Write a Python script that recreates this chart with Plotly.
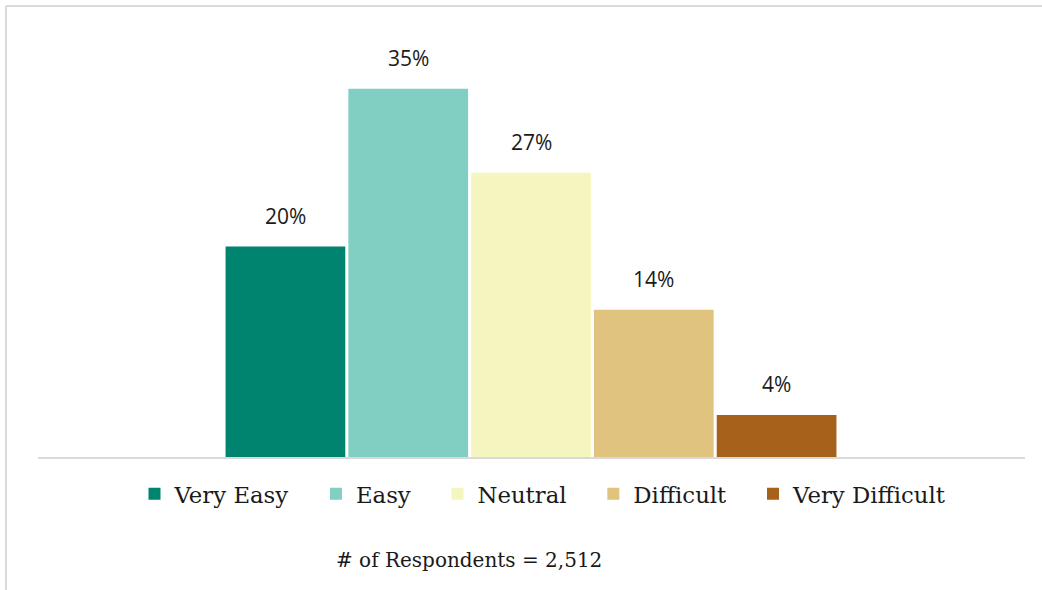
import plotly.graph_objects as go

categories = ['Very Easy', 'Easy', 'Neutral', 'Difficult', 'Very Difficult']
shares = [0.20, 0.35, 0.27, 0.14, 0.04]
colors = ['#01846f', '#81cfc2', '#f5f5bf', '#dfc37f', '#a6611b']
respondents = '# of Respondents = 2,512'

W, H = 1042, 590
L, R, T, B = 38, 17, 36, 133
pw, ph = W - L - R, H - T - B


def px_x(p):
    return (p - L) / pw


def px_y(p):
    return (H - B - p) / ph


fig = go.Figure()
for cat, val, col in zip(categories, shares, colors):
    # a few no-break spaces widen the gap between legend entries
    fig.add_trace(go.Bar(x=[cat], y=[val], name=cat + '\u00a0' * 3,
                         marker_color=col, marker_line_width=0))
    fig.add_annotation(x=cat, y=val, text=f'{val:.0%}', showarrow=False,
                       yanchor='middle', yshift=31,
                       font=dict(family='Open Sans', size=21, color='#1a1a1a'))

fig.add_annotation(xref='paper', yref='paper', x=px_x(469), y=px_y(560),
                   yanchor='middle', text=respondents, showarrow=False,
                   font=dict(family='DejaVu Serif', size=20, color='#1a1a1a'))

# light frame on the top and left edge
fig.add_shape(type='line', xref='paper', yref='paper', x0=px_x(6), x1=px_x(1045),
              y0=px_y(6), y1=px_y(6), line=dict(color='#d9d9d9', width=2))
fig.add_shape(type='line', xref='paper', yref='paper', x0=px_x(6), x1=px_x(6),
              y0=px_y(6), y1=px_y(595), line=dict(color='#d9d9d9', width=2))

fig.update_layout(
    width=W, height=H, margin=dict(l=L, r=R, t=T, b=B),
    barmode='overlay', bargap=0.025,
    plot_bgcolor='white', paper_bgcolor='white',
    legend=dict(orientation='h', x=px_x(554), xanchor='center',
                y=px_y(494), yanchor='middle',
                font=dict(family='DejaVu Serif', size=22.8, color='#1a1a1a')),
    xaxis=dict(range=[-2.015, 6.023], showticklabels=False, showgrid=False,
               showline=True, linecolor='#d9d9d9', linewidth=2, zeroline=False,
               fixedrange=True),
    yaxis=dict(range=[0, 0.40], visible=False, showgrid=False),
)

fig.write_html('out.html', config={'displayModeBar': False},
               post_script="document.body.style.margin='0';")
